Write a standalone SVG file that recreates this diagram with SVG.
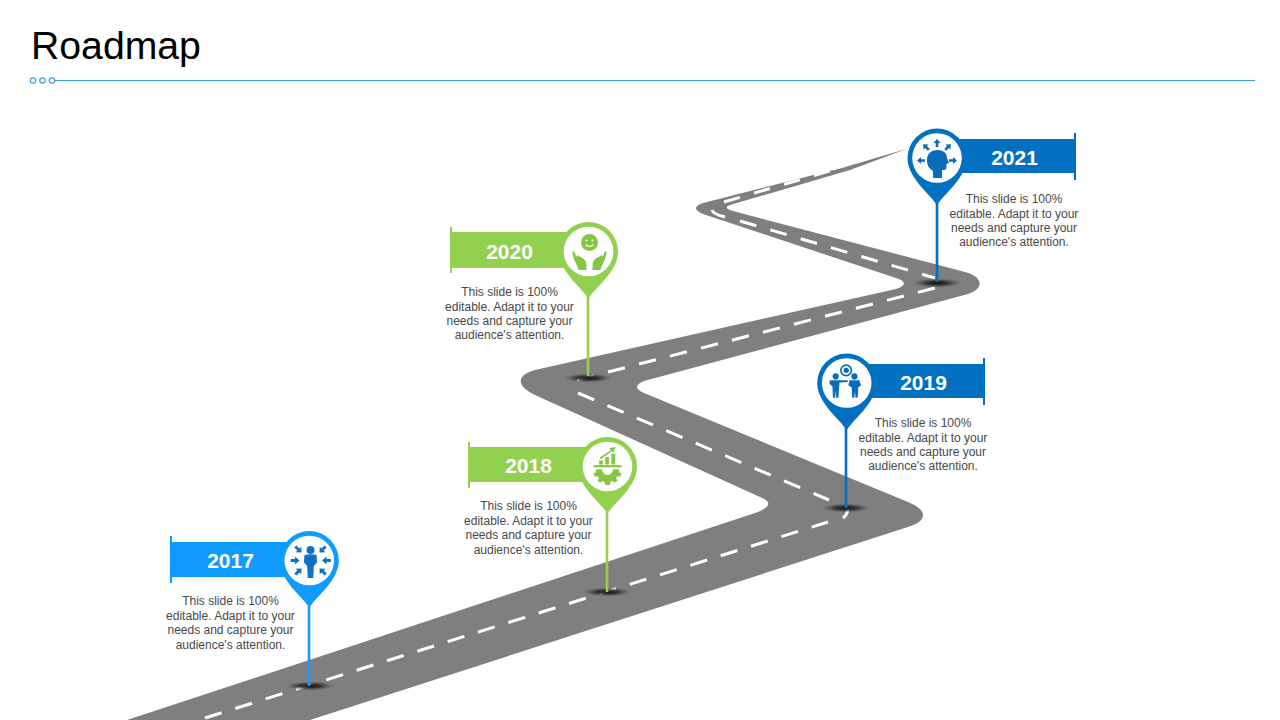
<svg xmlns="http://www.w3.org/2000/svg" xmlns:xlink="http://www.w3.org/1999/xlink" width="1280" height="720" viewBox="0 0 1280 720">
<style>
text{font-family:"Liberation Sans",Arial,sans-serif}
.title{font-size:39.200px;fill:#000}
.year{font-size:21px;font-weight:bold;fill:#fff;text-anchor:middle}
.desc{font-size:12px;fill:#484848;text-anchor:middle}
.dash{fill:none;stroke:#fff;stroke-width:3}
.dot{fill:#fff;stroke:#4a9fd0;stroke-width:1.2}
.sky{fill:#0f9bff}.leaf{fill:#92d050}.sea{fill:#0070c0}
.skyS{stroke:#0f9bff}.leafS{stroke:#92d050}.seaS{stroke:#0070c0}
.stem{stroke-width:2.6;fill:none}
.ink1{fill:#1071c4}.ink2{fill:#84c544}.ink3{fill:#0a6cb8}
</style>
<defs>
<radialGradient id="shade"><stop offset="0" stop-color="#111"/><stop offset="0.45" stop-color="#222" stop-opacity="0.8"/><stop offset="1" stop-color="#444" stop-opacity="0"/></radialGradient>
<path id="pin" d="M0,47 C-7,36 -29.5,20 -29.5,0 A29.5,29.5 0 1 1 29.5,0 C29.5,20 7,36 0,47 Z"/>
<path id="arr" d="M0,-4 L3.600,0 L1.300,0 L1.300,4 L-1.300,4 L-1.300,0 L-3.600,0 Z"/>
</defs>
<rect width="1280" height="720" fill="#fff"/>
<text class="title" x="31" y="59">Roadmap</text>
<g id="rule">
<line x1="55" y1="80.5" x2="1255" y2="80.5" stroke="#3aa0c8" stroke-width="1"/>
<circle class="dot" cx="33" cy="80.5" r="2.7"/><circle class="dot" cx="42.500" cy="80.5" r="2.7"/><circle class="dot" cx="52" cy="80.5" r="2.7"/>
</g>
<g id="road">
<path fill="#7f7f7f" d="M127,720 L752,514 Q780,505 760,497 L535,395 C516,386 516,375 535,370 L896,289 Q910,284 899,279 L703,214 Q689,208 703,203 L845,167 L908,148.5 L850,170 L730,205 Q722,208 733,211 L965,272 C984,277 984,289 968,294 L644,381 Q630,387 644,393 L908,502 C928,510 928,521 908,527 L310,720 Z"/>
<path class="dash" stroke-dasharray="17.500 14.300" d="M205,718 L828,522"/>
<path class="dash" stroke-dasharray="17.500 14.500" d="M578,393 L829,500"/>
<path class="dash" d="M848,508 Q848,514 843,518"/>
<path class="dash" stroke-dasharray="17.500 14.500" d="M577,380 L935,288"/>
<path class="dash" stroke-dasharray="17 14.600" d="M740,221 L935,278"/>
<path class="dash" d="M712,210 Q713,214 725,217"/>
<path class="dash" stroke-width="2.400" stroke-dasharray="16.500 14.800" d="M724,202 L833,170"/>
<path d="M833,170 L870,159" stroke="#fff" stroke-width="1" stroke-dasharray="14 10" fill="none"/>
<ellipse cx="310" cy="686" rx="24" ry="4.500" fill="url(#shade)"/>
<ellipse cx="607" cy="592" rx="24" ry="4.500" fill="url(#shade)"/>
<ellipse cx="846" cy="508" rx="24" ry="4.500" fill="url(#shade)"/>
<ellipse cx="588" cy="378" rx="24" ry="4.500" fill="url(#shade)"/>
<ellipse cx="937" cy="283" rx="24" ry="4.500" fill="url(#shade)"/>
</g>
<g id="connectors">
<line class="stem skyS" x1="309" y1="600" x2="309" y2="686"/>
<line class="stem leafS" x1="607" y1="505" x2="607" y2="592"/>
<line class="stem seaS" x1="846" y1="425" x2="846" y2="508"/>
<line class="stem leafS" x1="588" y1="292" x2="588" y2="376"/>
<line class="stem seaS" x1="937" y1="200" x2="937" y2="282"/>
</g>

<g id="node-2017">
<rect class="sky" x="171" y="542" width="130" height="35"/>
<rect class="sky" x="170" y="536" width="2" height="47"/>
<use href="#pin" class="sky" transform="translate(309.300,560.500)"/>
<circle cx="309.300" cy="560.500" r="24.800" fill="#fff"/>
<g class="ink1" transform="translate(310.500,560.500) scale(1.1)">
<circle cx="0" cy="-9.500" r="3.600"/>
<path d="M-5.500,-5 Q0,-6.500 5.500,-5 L6,1.500 L3,5 L2.500,16 L-2.500,16 L-3,5 L-6,1.500 Z"/>
<use href="#arr" transform="translate(-14,0) rotate(90)"/>
<use href="#arr" transform="translate(14.500,0) rotate(-90)"/>
<use href="#arr" transform="translate(-11,-10) rotate(135)"/>
<use href="#arr" transform="translate(11,-10) rotate(-135)"/>
<use href="#arr" transform="translate(-11,10) rotate(45)"/>
<use href="#arr" transform="translate(11,10) rotate(-45)"/>
</g>
<text class="year" x="230.500" y="567.500">2017</text>
<text class="desc" x="230.500" y="605">This slide is 100%</text>
<text class="desc" x="230.500" y="619.500">editable. Adapt it to your</text>
<text class="desc" x="230.500" y="634">needs and capture your</text>
<text class="desc" x="230.500" y="648.500">audience's attention.</text>
</g>

<g id="node-2018">
<rect class="leaf" x="469" y="447" width="130" height="35"/>
<rect class="leaf" x="468" y="442" width="2" height="46"/>
<use href="#pin" class="leaf" transform="translate(607.500,466.500)"/>
<circle cx="607.500" cy="466.500" r="24.800" fill="#fff"/>
<g class="ink2" transform="translate(607.500,466) scale(1.12)">
<rect x="-12.500" y="-0.800" width="25" height="2"/>
<rect x="-7.500" y="-5" width="3.400" height="3.700"/>
<rect x="-2" y="-8" width="3.400" height="6.700"/>
<rect x="3.500" y="-11" width="3.400" height="9.700"/>
<path d="M-7,-7.500 L3,-14 L1.500,-16 L7,-17 L5.500,-12 L4,-13.300 L-6,-6 Z"/>
<path d="M-10.500,3 H10.500 L10.200,5.500 L12.500,6.500 L11.300,9.500 L8.800,9.200 L7.500,11 L9,13 L6.500,15 L4.500,13.500 L2.500,14.300 L2,17 H-2 L-2.500,14.300 L-4.500,13.500 L-6.500,15 L-9,13 L-7.500,11 L-8.800,9.200 L-11.300,9.500 L-12.500,6.500 L-10.200,5.500 Z M-5,3 A5,5 0 0 0 5,3 Z" fill-rule="evenodd"/>
</g>
<text class="year" x="528.500" y="473">2018</text>
<text class="desc" x="528.500" y="510">This slide is 100%</text>
<text class="desc" x="528.500" y="524.500">editable. Adapt it to your</text>
<text class="desc" x="528.500" y="539">needs and capture your</text>
<text class="desc" x="528.500" y="553.500">audience's attention.</text>
</g>

<g id="node-2019">
<rect class="sea" x="860" y="364" width="124" height="34"/>
<rect class="sea" x="983" y="358" width="2" height="47"/>
<use href="#pin" class="sea" transform="translate(846.700,383)"/>
<circle cx="846.700" cy="383" r="24.800" fill="#fff"/>
<g class="ink3" transform="translate(846.700,383) scale(1.1)">
<circle cx="-0.500" cy="-11.500" r="5.500"/><circle cx="-0.500" cy="-11.500" r="4" fill="#fff"/><circle cx="-0.500" cy="-11.500" r="2.400"/>
<circle cx="-10" cy="-6" r="2.800"/>
<path d="M-15.500,-2.500 L-6,-2.500 L1,-2.500 L1,-0.800 L-6.500,-0.500 L-7,5 L-7.500,13.500 L-9.500,13.500 L-10,7 L-10.500,13.500 L-12.500,13.500 L-13,3 L-15.500,1 Z"/>
<circle cx="7" cy="-6" r="2.800"/>
<path d="M2.500,-2.500 H11.500 L13,2 L10.500,4 L10,13.500 L8,13.500 L7.500,7 L7,13.500 L5,13.500 L4.500,4 L1.500,2 Z"/>
</g>
<text class="year" x="923.500" y="390">2019</text>
<text class="desc" x="923" y="427">This slide is 100%</text>
<text class="desc" x="923" y="441.500">editable. Adapt it to your</text>
<text class="desc" x="923" y="456">needs and capture your</text>
<text class="desc" x="923" y="470">audience's attention.</text>
</g>

<g id="node-2020">
<rect class="leaf" x="451" y="232" width="130" height="36"/>
<rect class="leaf" x="450" y="227" width="2" height="46"/>
<use href="#pin" class="leaf" transform="translate(588.500,251.500)"/>
<circle cx="588.500" cy="251.500" r="24.800" fill="#fff"/>
<g class="ink2" transform="translate(588.500,251)">
<circle cx="1" cy="-8.500" r="8.500"/>
<circle cx="-2" cy="-10.500" r="1.100" fill="#fff"/><circle cx="4" cy="-10.500" r="1.100" fill="#fff"/>
<path d="M-3,-6.500 Q1,-2.500 5,-6.500" fill="none" stroke="#fff" stroke-width="1.100"/>
<path d="M-2,19 L-10,19 C-11,13 -16,9 -16,0 C-14,0 -13,3 -12.500,6 L-11,4 C-9,6 -4,7 -2.500,11 Q-2,13 -2,19 Z"/>
<path d="M4,19 L12,19 C13,13 18,9 18,0 C16,0 15,3 14.500,6 L13,4 C11,6 6,7 4.500,11 Q4,13 4,19 Z"/>
</g>
<text class="year" x="509.500" y="259">2020</text>
<text class="desc" x="509.500" y="296">This slide is 100%</text>
<text class="desc" x="509.500" y="310.500">editable. Adapt it to your</text>
<text class="desc" x="509.500" y="324.500">needs and capture your</text>
<text class="desc" x="509.500" y="339">audience's attention.</text>
</g>

<g id="node-2021">
<rect class="sea" x="955" y="139" width="120" height="34"/>
<rect class="sea" x="1074" y="133" width="2" height="47"/>
<use href="#pin" class="sea" transform="translate(937,158)"/>
<circle cx="937" cy="158" r="24.800" fill="#fff"/>
<g class="ink3" transform="translate(937,158)">
<path d="M-4,20 L-4,13 C-9,10 -10,6 -10,2 C-10,-5 -5,-8 1,-8 C7,-8 10,-4 10,0 L12,5 L9.500,6 L9.500,10 Q9,12 5,12 L5,20 Z"/>
<use href="#arr" transform="translate(0,-15)"/>
<use href="#arr" transform="translate(-11,-11) rotate(-45)"/>
<use href="#arr" transform="translate(11,-11) rotate(45)"/>
<use href="#arr" transform="translate(-16,2.500) rotate(-90)"/>
<use href="#arr" transform="translate(16,2.500) rotate(90)"/>
</g>
<text class="year" x="1014.500" y="165">2021</text>
<text class="desc" x="1014" y="203">This slide is 100%</text>
<text class="desc" x="1014" y="217.500">editable. Adapt it to your</text>
<text class="desc" x="1014" y="231.500">needs and capture your</text>
<text class="desc" x="1014" y="246">audience's attention.</text>
</g>
</svg>
